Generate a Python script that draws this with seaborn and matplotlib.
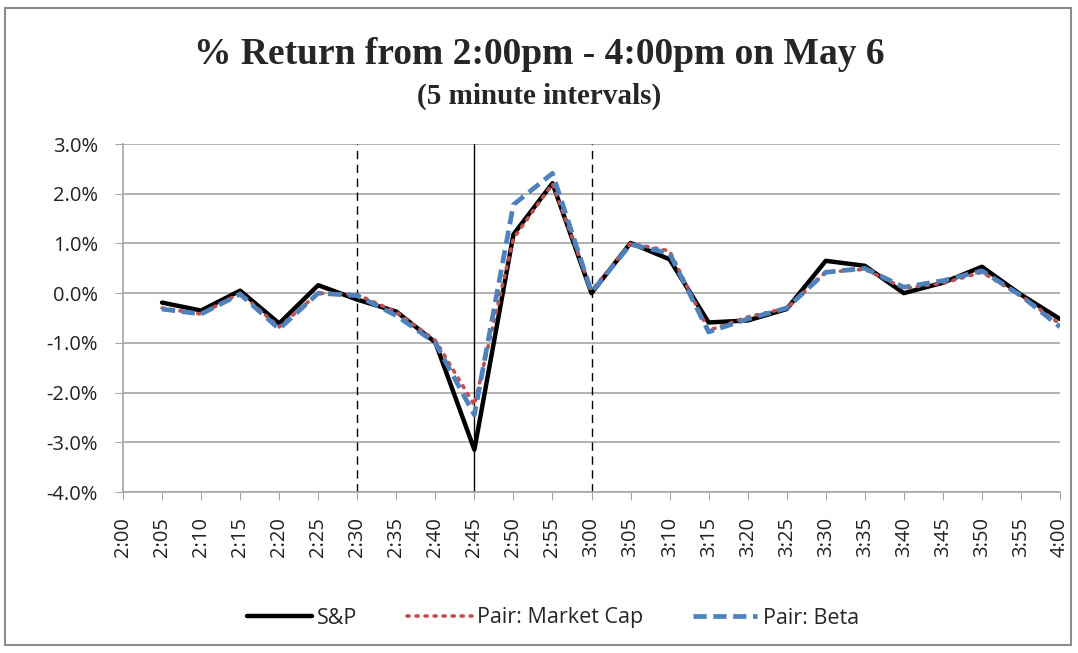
import numpy as np
import pandas as pd
import seaborn as sns
import matplotlib.pyplot as plt
from matplotlib.patches import Rectangle
from matplotlib.ticker import FuncFormatter

# Data (percent returns, 5 minute intervals)
times = ["2:00", "2:05", "2:10", "2:15", "2:20", "2:25", "2:30", "2:35", "2:40",
         "2:45", "2:50", "2:55", "3:00", "3:05", "3:10", "3:15", "3:20", "3:25",
         "3:30", "3:35", "3:40", "3:45", "3:50", "3:55", "4:00"]
sp = [-0.19, -0.35, 0.05, -0.61, 0.16, -0.13, -0.37, -0.99, -3.15, 1.18, 2.21, 0.0,
      1.01, 0.68, -0.59, -0.55, -0.32, 0.65, 0.55, 0.0, 0.21, 0.53, -0.03, -0.52]
mkt_cap = [-0.30, -0.42, 0.0, -0.68, 0.0, -0.03, -0.38, -0.95, -2.25, 1.10, 2.20, 0.05,
           1.00, 0.85, -0.75, -0.48, -0.30, 0.42, 0.48, 0.10, 0.20, 0.42, -0.05, -0.62]
beta = [-0.32, -0.42, -0.02, -0.72, 0.0, -0.05, -0.45, -1.00, -2.45, 1.78, 2.41, 0.02,
        0.98, 0.80, -0.78, -0.52, -0.30, 0.42, 0.50, 0.12, 0.25, 0.45, -0.05, -0.68]
marked = ["2:30", "2:45", "3:00"]

pos = np.arange(1, len(times))
df = pd.DataFrame({"pos": pos, "S&P": sp, "Pair: Market Cap": mkt_cap, "Pair: Beta": beta})

sns.set_style("white")
plt.rcParams["font.family"] = ["Open Sans", "DejaVu Sans"]

fig = plt.figure(figsize=(10.78, 6.53), dpi=100)
ax = fig.add_axes([123 / 1078, 1 - 492 / 653, (1060 - 123) / 1078, (492 - 144) / 653])

# outer chart border
fig.patches.append(Rectangle((5 / 1078, 8 / 653), 1066 / 1078, 637 / 653, transform=fig.transFigure,
                             fill=False, edgecolor="#8c8c8c", linewidth=1.5))

sns.lineplot(data=df, x="pos", y="S&P", ax=ax, color="black", linewidth=3.2, label="S&P")
sns.lineplot(data=df, x="pos", y="Pair: Market Cap", ax=ax, color="#c0504d", linewidth=2.6,
             linestyle=(0, (0.6, 1.9)), dash_capstyle="round", label="Pair: Market Cap")
sns.lineplot(data=df, x="pos", y="Pair: Beta", ax=ax, color="#4f81bd", linewidth=3.4,
             linestyle=(0, (2.8, 1.4)), label="Pair: Beta")

for t in marked:
    i = times.index(t)
    ax.axvline(i, color="black", linewidth=1, linestyle="-" if t == "2:45" else (0, (6, 4)), zorder=1)

ax.set_xlim(0, len(times) - 1)
ax.set_ylim(-4, 3)
ax.set_yticks(np.arange(-4, 3.1, 1))
ax.yaxis.set_major_formatter(FuncFormatter(lambda v, p: f"{v:.1f}%"))
ax.set_xticks(range(len(times)))
ax.set_xticklabels(times, rotation=90)
ax.grid(axis="y", color="#a6a6a6", linewidth=1.2)
ax.set_axisbelow(True)
for s in ["top", "right"]:
    ax.spines[s].set_visible(False)
for s in ["left", "bottom"]:
    ax.spines[s].set_color("#a6a6a6")
    ax.spines[s].set_linewidth(1.2)
ax.tick_params(axis="both", which="both", length=6, color="#a6a6a6", labelsize=14.5, direction="out",
               bottom=True, left=True, labelcolor="#222222")
ax.tick_params(axis="x", pad=12)
ax.tick_params(axis="y", pad=12)
ax.set_xlabel("")
ax.set_ylabel("")

fig.text(0.5, 1 - 55 / 653, "% Return from 2:00pm - 4:00pm on May 6", ha="center", va="center",
         fontsize=27, fontweight="bold", family="Liberation Serif")
fig.text(0.5, 1 - 96 / 653, "(5 minute intervals)", ha="center", va="center",
         fontsize=21, fontweight="bold", family="Liberation Serif")

ax.legend(loc="center", bbox_to_anchor=(553 / 1078, 1 - 618 / 653), bbox_transform=fig.transFigure,
          ncol=3, frameon=False, fontsize=15.5, handlelength=3.0, columnspacing=2.3, handletextpad=0.25)

fig.savefig("out.png", dpi=100)
